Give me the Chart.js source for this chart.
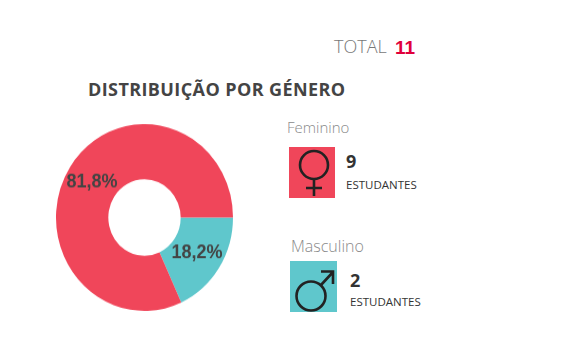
<!DOCTYPE html>
<html lang="pt">
<head>
<meta charset="utf-8">
<title>Distribuição por género</title>
<script src="https://cdn.jsdelivr.net/npm/chart.js@4"></script>
<style>
body { margin: 0; background: #fff; font-family: "Open Sans", sans-serif; }
#page { position: relative; width: 570px; height: 360px; overflow: hidden; }
#page div { position: absolute; white-space: nowrap; line-height: 1; }
/* reference donut is a bit taller than wide */
#donut { position: absolute; left: 54px; top: 127px; transform: scaleY(1.056); }
.box { width: 46px; height: 51px; }
.name { color: #8a8a8a; font-weight: 300; }
.num { font-size: 18px; font-weight: 700; color: #333; }
.unit { font-size: 11.5px; color: #333; }
svg { position: absolute; left: 0; top: 0; }
</style>
</head>
<body>
<div id="page">
  <div style="left:334px;top:37px;font-size:18px;font-weight:300;color:#777">TOTAL</div>
  <div id="total" style="left:395px;top:37px;font:bold 19px 'Liberation Sans';color:#e0003c"></div>
  <div style="left:88px;top:80px;font-size:18px;letter-spacing:.4px;font-weight:700;color:#444">DISTRIBUIÇÃO POR GÉNERO</div>
  <canvas id="donut" width="181" height="181"></canvas>

  <div class="name" style="left:287px;top:120px;font-size:15px">Feminino</div>
  <div class="box" style="left:289px;top:147px;background:#f0465a">
    <svg width="46" height="51" fill="none" stroke="#222" stroke-width="2.6">
      <circle cx="25" cy="18" r="14"/>
      <path d="M25 32V49M17 41H33"/>
    </svg>
  </div>
  <div class="num" id="numF" style="left:346px;top:152px"></div>
  <div class="unit" style="left:346px;top:179px">ESTUDANTES</div>

  <div class="name" style="left:291px;top:238px;font-size:16px">Masculino</div>
  <div class="box" style="left:290px;top:261px;width:47px;background:#5fc7cc">
    <svg width="47" height="51" fill="none" stroke="#222" stroke-width="2.6">
      <circle cx="21" cy="35" r="14.500"/>
      <path d="M31 24L43 11M31 10.500H43V23"/>
    </svg>
  </div>
  <div class="num" id="numM" style="left:350px;top:271px"></div>
  <div class="unit" style="left:350px;top:296px">ESTUDANTES</div>
</div>

<script>
var labels = ['Masculino', 'Feminino'];
var students = [2, 9];
var colors = ['#5fc7cc', '#f0465a'];

var total = students[0] + students[1];
document.getElementById('total').textContent = total;
document.getElementById('numM').textContent = students[0];
document.getElementById('numF').textContent = students[1];

// percent labels in the middle of each slice
var sliceLabels = {
    id: 'sliceLabels',
    afterDatasetsDraw: function(chart) {
        var ctx = chart.ctx;
        ctx.save();
        ctx.font = 'bold 18px "Liberation Sans", Arial, sans-serif';
        ctx.fillStyle = '#444';
        ctx.textAlign = 'center';
        ctx.textBaseline = 'middle';
        chart.getDatasetMeta(0).data.forEach(function(arc, i) {
            var p = arc.getCenterPoint();
            var pct = (students[i] / total * 100).toFixed(1).replace('.', ',') + '%';
            ctx.fillText(pct, p.x, p.y);
        });
        ctx.restore();
    }
};

new Chart(document.getElementById('donut').getContext('2d'), {
    type: 'doughnut',
    data: {
        labels: labels,
        datasets: [{
            data: students,
            backgroundColor: colors,
            borderWidth: 0,
            radius: 88.5,
            cutout: 37
        }]
    },
    options: {
        responsive: false,
        animation: false,
        rotation: 90,
        plugins: {
            legend: { display: false },
            tooltip: { enabled: false }
        }
    },
    plugins: [sliceLabels]
});
</script>
</body>
</html>
